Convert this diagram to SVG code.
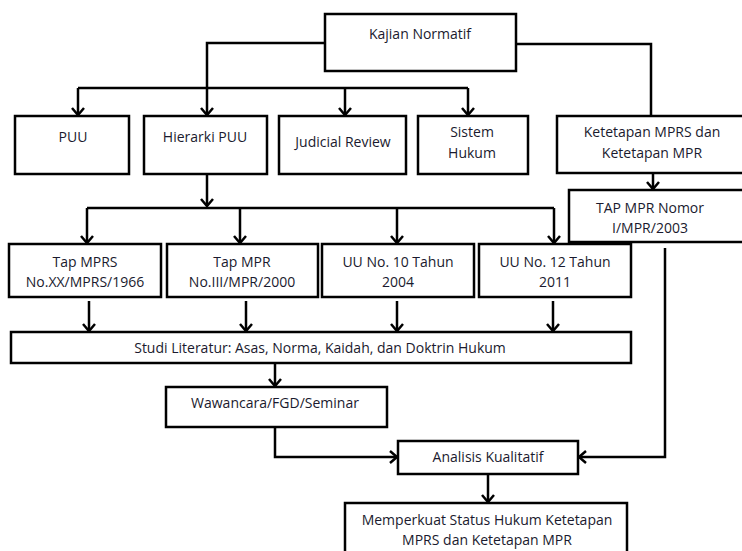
<svg xmlns="http://www.w3.org/2000/svg" width="742" height="551" viewBox="0 0 742 551">
<defs>
<style>
.box{fill:#fff;stroke:#000;stroke-width:2.5}
.t{font-family:"Open Sans","Liberation Sans",sans-serif;font-size:14px;fill:#1a1a2e;text-anchor:middle}
.c{fill:none;stroke:#000;stroke-width:2.5}
</style>
<marker id="ah" markerUnits="userSpaceOnUse" markerWidth="16" markerHeight="16" viewBox="-9 -8 11 16" refX="0" refY="0" orient="auto">
<path d="M-7,-6 L0,0 L-7,6" fill="none" stroke="#000" stroke-width="2.5"/>
</marker>
</defs>
<rect width="742" height="551" fill="#fff"/>
<g id="connectors">
<path class="c" d="M325,43 H207 V115" marker-end="url(#ah)"/>
<path class="c" d="M78,88 H468"/>
<path class="c" d="M78,88 V115" marker-end="url(#ah)"/>
<path class="c" d="M345,88 V115" marker-end="url(#ah)"/>
<path class="c" d="M468,88 V115" marker-end="url(#ah)"/>
<path class="c" d="M516,44 H651 V116"/>
<path class="c" d="M653,173 V189" marker-end="url(#ah)"/>
<path class="c" d="M207,174 V206" marker-end="url(#ah)"/>
<path class="c" d="M87,208 H554"/>
<path class="c" d="M87,208 V243" marker-end="url(#ah)"/>
<path class="c" d="M240,208 V243" marker-end="url(#ah)"/>
<path class="c" d="M397,208 V243" marker-end="url(#ah)"/>
<path class="c" d="M554,208 V243" marker-end="url(#ah)"/>
<path class="c" d="M89,301 V331" marker-end="url(#ah)"/>
<path class="c" d="M246,301 V331" marker-end="url(#ah)"/>
<path class="c" d="M397,301 V331" marker-end="url(#ah)"/>
<path class="c" d="M553,301 V331" marker-end="url(#ah)"/>
<path class="c" d="M275,363 V386" marker-end="url(#ah)"/>
<path class="c" d="M275,427 V457 H397" marker-end="url(#ah)"/>
<path class="c" d="M665,248 V457 H579" marker-end="url(#ah)"/>
<path class="c" d="M488,474 V502" marker-end="url(#ah)"/>
</g>
<g id="kajian"><rect class="box" x="325" y="14" width="191" height="57"/><text class="t" x="420" y="39">Kajian Normatif</text></g>
<g id="puu"><rect class="box" x="15" y="116" width="114" height="58"/><text class="t" x="73" y="142">PUU</text></g>
<g id="hierarki"><rect class="box" x="144" y="116" width="123" height="58"/><text class="t" x="205" y="142">Hierarki PUU</text></g>
<g id="judicial"><rect class="box" x="279" y="116" width="127" height="58"/><text class="t" x="343" y="147">Judicial Review</text></g>
<g id="sistem"><rect class="box" x="418" y="116" width="110" height="58"/><text class="t" x="472" y="137">Sistem</text><text class="t" x="472" y="158">Hukum</text></g>
<g id="ketetapan"><rect class="box" x="557" y="116" width="192" height="57"/><text class="t" x="652" y="137">Ketetapan MPRS dan</text><text class="t" x="652" y="158">Ketetapan MPR</text></g>
<g id="tapmpr"><rect class="box" x="569" y="190" width="180" height="52"/><text class="t" x="650" y="213">TAP MPR Nomor</text><text class="t" x="650" y="233">I/MPR/2003</text></g>
<g id="tapmprs"><rect class="box" x="9" y="244" width="152" height="53"/><text class="t" x="85" y="267">Tap MPRS</text><text class="t" x="85" y="287">No.XX/MPRS/1966</text></g>
<g id="tapmpr2000"><rect class="box" x="167" y="244" width="151" height="53"/><text class="t" x="242" y="267">Tap MPR</text><text class="t" x="242" y="287">No.III/MPR/2000</text></g>
<g id="uu10"><rect class="box" x="322" y="244" width="152" height="53"/><text class="t" x="398" y="267">UU No. 10 Tahun</text><text class="t" x="398" y="287">2004</text></g>
<g id="uu12"><rect class="box" x="479" y="244" width="152" height="53"/><text class="t" x="555" y="267">UU No. 12 Tahun</text><text class="t" x="555" y="287">2011</text></g>
<g id="studi"><rect class="box" x="11" y="332" width="620" height="31"/><text class="t" x="320" y="353">Studi Literatur: Asas, Norma, Kaidah, dan Doktrin Hukum</text></g>
<g id="wawancara"><rect class="box" x="166" y="387" width="221" height="40"/><text class="t" x="275" y="408">Wawancara/FGD/Seminar</text></g>
<g id="analisis"><rect class="box" x="398" y="441" width="180" height="33"/><text class="t" x="488" y="462">Analisis Kualitatif</text></g>
<g id="memperkuat"><rect class="box" x="345" y="503" width="282" height="60"/><text class="t" x="487" y="525">Memperkuat Status Hukum Ketetapan</text><text class="t" x="487" y="545">MPRS dan Ketetapan MPR</text></g>
</svg>
